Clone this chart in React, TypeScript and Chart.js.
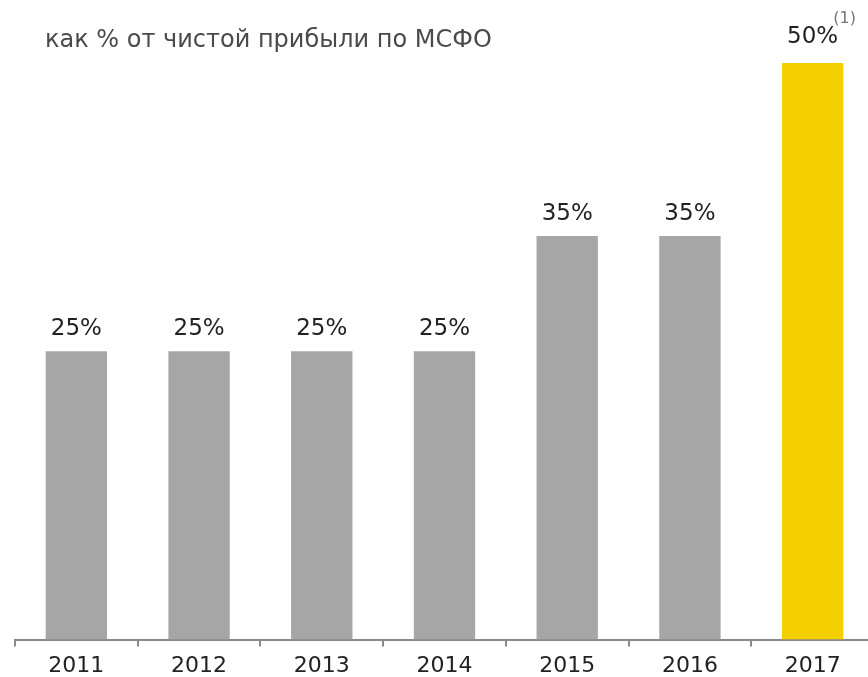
import React, { useEffect, useRef } from "react";
import { Chart, registerables } from "chart.js";

Chart.register(...registerables);

const years = ["2011", "2012", "2013", "2014", "2015", "2016", "2017"];
const payoutPct = [25, 25, 25, 25, 35, 35, 50];
const valueLabels = ["25%", "25%", "25%", "25%", "35%", "35%", "50%"];
const barColors = ["#a6a6a6", "#a6a6a6", "#a6a6a6", "#a6a6a6", "#a6a6a6", "#a6a6a6", "#f5d000"];
const titleText = "как % от чистой прибыли по МСФО";
const footnoteMark = "(1)";

const FONT = "'DejaVu Sans', sans-serif";

const labelPlugin = {
  id: "labels",
  afterDatasetsDraw(chart: any) {
    const ctx = chart.ctx;
    const meta = chart.getDatasetMeta(0);
    ctx.save();
    ctx.fillStyle = "#222";
    ctx.font = `23px ${FONT}`;
    ctx.textAlign = "center";
    ctx.textBaseline = "alphabetic";
    meta.data.forEach((bar: any, i: number) => {
      const extra = i === payoutPct.length - 1 ? 4 : 0;
      ctx.fillText(valueLabels[i], bar.x, bar.y - 16 - extra);
      if (i === payoutPct.length - 1) {
        const w = ctx.measureText(valueLabels[i]).width;
        ctx.save();
        ctx.font = `16px ${FONT}`;
        ctx.fillStyle = "#777";
        ctx.textAlign = "left";
        ctx.fillText(footnoteMark, bar.x + w / 2 - 5, 23);
        ctx.restore();
      }
    });
    ctx.fillStyle = "#4a4a4a";
    ctx.font = `24px ${FONT}`;
    ctx.textAlign = "left";
    ctx.fillText(titleText, 45, 47);
    ctx.restore();
  },
};

export default function App() {
  const ref = useRef<HTMLCanvasElement>(null);
  useEffect(() => {
    if (!ref.current) return;
    const chart = new Chart(ref.current, {
      type: "bar",
      data: {
        labels: years,
        datasets: [
          {
            data: payoutPct,
            backgroundColor: barColors,
            barPercentage: 0.5,
            categoryPercentage: 1,
          },
        ],
      },
      options: {
        animation: false,
        responsive: false,
        maintainAspectRatio: false,
        layout: { padding: { left: 15, right: 0, top: 63, bottom: -8 } },
        plugins: { legend: { display: false }, tooltip: { enabled: false } },
        scales: {
          x: {
            grid: {
              offset: true,
              drawOnChartArea: false,
              drawTicks: true,
              tickLength: 7,
              color: "#8a8a8a",
              lineWidth: 2,
            },
            border: { display: true, color: "#8a8a8a", width: 2 },
            ticks: { color: "#222", font: { family: FONT, size: 22 }, padding: 6 },
          },
          y: { display: false, min: 0, max: 50 },
        },
      },
      plugins: [labelPlugin],
    });
    return () => chart.destroy();
  }, []);
  return (
    <div style={{ position: "fixed", left: 0, top: 0, width: 868, height: 677, overflow: "hidden", background: "#fff" }}>
      <canvas ref={ref} width={874} height={677} style={{ display: "block" }} />
    </div>
  );
}
